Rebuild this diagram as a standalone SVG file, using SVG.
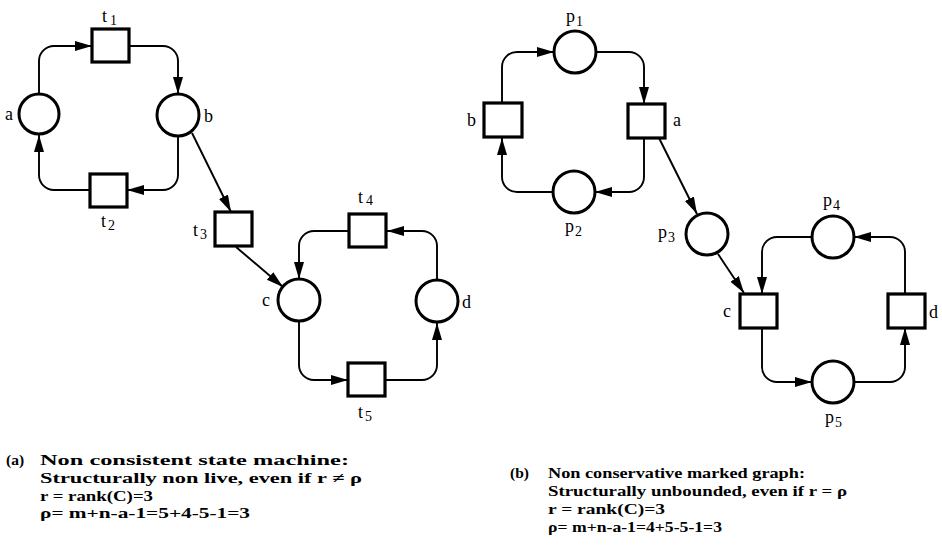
<svg xmlns="http://www.w3.org/2000/svg" width="942" height="552" viewBox="0 0 942 552">
  <style>
    .place { fill: #fff; stroke: #000; stroke-width: 3; }
    .trans { fill: #fff; stroke: #000; stroke-width: 3.2; }
    .arc { fill: none; stroke: #000; stroke-width: 1.9; marker-end: url(#head); }
    .lbl { font-family: "Liberation Serif", "Times New Roman", serif; font-size: 18px; fill: #000; }
    .sub { font-size: 14px; }
    .cap { font-family: "Liberation Serif", "Times New Roman", serif; font-size: 15.5px; font-weight: bold; fill: #000; }
  </style>
  <defs>
    <marker id="head" markerUnits="userSpaceOnUse" markerWidth="18" markerHeight="11" refX="17" refY="5" orient="auto">
      <path d="M0,0 L17,5 L0,10 z" fill="#000"/>
    </marker>
  </defs>
  <rect width="942" height="552" fill="#fff"/>

  <!-- (a) state machine: connectors -->
  <g id="edges-a">
    <path class="arc" d="M39,94 V61 A15,15 0 0 1 54,46 H92"/>
    <path class="arc" d="M129,46 H163 A15,15 0 0 1 178,61 V94"/>
    <path class="arc" d="M178,136 V175 A15,15 0 0 1 163,190 H127"/>
    <path class="arc" d="M90,190 H54 A15,15 0 0 1 39,175 V135"/>
    <path class="arc" d="M192,133 L231,212"/>
    <path class="arc" d="M236,247 L283,287"/>
    <path class="arc" d="M437,280 V246 A15,15 0 0 0 422,231 H387"/>
    <path class="arc" d="M348,231 H314 A15,15 0 0 0 299,246 V279"/>
    <path class="arc" d="M299,322 V365 A15,15 0 0 0 314,380 H348"/>
    <path class="arc" d="M385,380 H422 A15,15 0 0 0 437,365 V323"/>
  </g>

  <!-- (a) nodes -->
  <g id="a-place-a"><circle class="place" cx="39" cy="114" r="20"/><text class="lbl" x="5" y="120">a</text></g>
  <g id="a-place-b"><circle class="place" cx="178" cy="115" r="21"/><text class="lbl" x="204" y="122">b</text></g>
  <g id="a-place-c"><circle class="place" cx="299" cy="300" r="21"/><text class="lbl" x="262" y="306">c</text></g>
  <g id="a-place-d"><circle class="place" cx="437" cy="301" r="21"/><text class="lbl" x="462" y="308">d</text></g>
  <g id="a-t1"><rect class="trans" x="92" y="29" width="37" height="33"/><text class="lbl" x="102" y="22">t<tspan class="sub" dx="3" dy="3">1</tspan></text></g>
  <g id="a-t2"><rect class="trans" x="90" y="174" width="37" height="33"/><text class="lbl" x="101" y="227">t<tspan class="sub" dx="2" dy="3">2</tspan></text></g>
  <g id="a-t3"><rect class="trans" x="215" y="212" width="37" height="34"/><text class="lbl" x="193" y="236">t<tspan class="sub" dx="2" dy="3">3</tspan></text></g>
  <g id="a-t4"><rect class="trans" x="349" y="214" width="37" height="33"/><text class="lbl" x="358" y="203">t<tspan class="sub" dx="3" dy="2">4</tspan></text></g>
  <g id="a-t5"><rect class="trans" x="348" y="363" width="37" height="33"/><text class="lbl" x="358" y="418">t<tspan class="sub" dx="2" dy="3">5</tspan></text></g>

  <!-- (b) marked graph: connectors -->
  <g id="edges-b">
    <path class="arc" d="M502,103 V67 A15,15 0 0 1 517,52 H554"/>
    <path class="arc" d="M596,52 H629 A15,15 0 0 1 644,67 V104"/>
    <path class="arc" d="M644,138 V177 A15,15 0 0 1 629,192 H595"/>
    <path class="arc" d="M553,192 H517 A15,15 0 0 1 502,177 V138"/>
    <path class="arc" d="M659,138 L697,214"/>
    <path class="arc" d="M718,254 L744,293"/>
    <path class="arc" d="M905,294 V252 A15,15 0 0 0 890,237 H854"/>
    <path class="arc" d="M812,237 H777 A15,15 0 0 0 762,252 V294"/>
    <path class="arc" d="M762,328 V367 A15,15 0 0 0 777,382 H812"/>
    <path class="arc" d="M854,382 H890 A15,15 0 0 0 905,367 V328"/>
  </g>

  <!-- (b) nodes -->
  <g id="b-p1"><circle class="place" cx="575" cy="52" r="21"/><text class="lbl" x="566" y="22">p<tspan class="sub" dx="1" dy="4">1</tspan></text></g>
  <g id="b-p2"><circle class="place" cx="574" cy="192" r="21"/><text class="lbl" x="565" y="232">p<tspan class="sub" dx="1" dy="4">2</tspan></text></g>
  <g id="b-p3"><circle class="place" cx="707" cy="234" r="21"/><text class="lbl" x="658" y="238">p<tspan class="sub" dx="1" dy="4">3</tspan></text></g>
  <g id="b-p4"><circle class="place" cx="833" cy="237" r="21"/><text class="lbl" x="823" y="206">p<tspan class="sub" dx="1" dy="4">4</tspan></text></g>
  <g id="b-p5"><circle class="place" cx="833" cy="382" r="21"/><text class="lbl" x="825" y="423">p<tspan class="sub" dx="1" dy="4">5</tspan></text></g>
  <g id="b-a"><rect class="trans" x="628" y="104" width="37" height="34"/><text class="lbl" x="673" y="126">a</text></g>
  <g id="b-b"><rect class="trans" x="484" y="103" width="38" height="34"/><text class="lbl" x="467" y="126">b</text></g>
  <g id="b-c"><rect class="trans" x="740" y="294" width="37" height="34"/><text class="lbl" x="723" y="317">c</text></g>
  <g id="b-d"><rect class="trans" x="888" y="294" width="37" height="34"/><text class="lbl" x="929" y="318">d</text></g>

  <!-- captions: glyphs stretched to the printed line widths -->
  <g id="caption-a">
    <text class="cap" x="6" y="465">(a)</text>
    <text class="cap" x="40" y="465" textLength="309" lengthAdjust="spacingAndGlyphs">Non consistent state machine:</text>
    <text class="cap" x="40" y="483" textLength="322" lengthAdjust="spacingAndGlyphs">Structurally non live, even if r ≠ ρ</text>
    <text class="cap" x="40" y="500.5" textLength="113" lengthAdjust="spacingAndGlyphs">r = rank(C)=3</text>
    <text class="cap" x="40" y="518" textLength="210" lengthAdjust="spacingAndGlyphs">ρ= m+n-a-1=5+4-5-1=3</text>
  </g>
  <g id="caption-b">
    <text class="cap" x="510" y="478">(b)</text>
    <text class="cap" x="548" y="478" textLength="257" lengthAdjust="spacingAndGlyphs">Non conservative marked graph:</text>
    <text class="cap" x="548" y="496" textLength="299" lengthAdjust="spacingAndGlyphs">Structurally unbounded,  even if r = ρ</text>
    <text class="cap" x="548" y="514" textLength="117" lengthAdjust="spacingAndGlyphs">r = rank(C)=3</text>
    <text class="cap" x="548" y="532" textLength="174" lengthAdjust="spacingAndGlyphs">ρ= m+n-a-1=4+5-5-1=3</text>
  </g>
</svg>
